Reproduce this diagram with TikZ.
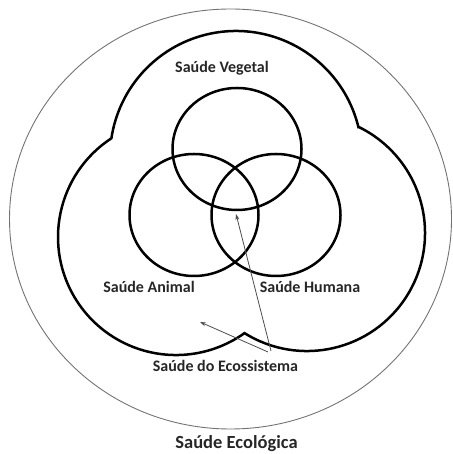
\documentclass[tikz,border=0pt]{standalone}
\usepackage{fontspec}
\setmainfont{Carlito}
\usetikzlibrary{arrows.meta,calc}
\begin{document}
\begin{tikzpicture}[x=1pt,y=1pt,
  lbl/.style={font=\bfseries\fontsize{16}{19}\selectfont, text=black!85, anchor=base, inner sep=0pt},
  bigl/.style={font=\bfseries\fontsize{18.5}{22}\selectfont, text=black!85, anchor=base, inner sep=0pt},
  thick line/.style={line width=2.5pt, black},
  pointer/.style={line width=0.8pt, black!70, -{Stealth[length=6pt,width=4pt]}}]
\useasboundingbox (0,0) rectangle (452,454);
% outer ellipse
\draw[black!55, line width=0.9pt] (230.5,235) ellipse [x radius=221, y radius=210];
% cloud (union of three lobes)
\coordinate (cT) at (236,297);
\coordinate (cL) at (176,217);
\coordinate (cR) at (307,221);
\draw[thick line, line join=miter]
  ($(cT)+(13.87:126)$) arc[start angle=13.87, end angle=171.47, radius=126]
  arc[start angle=123.20, end angle=305.49, radius=118]
  arc[start angle=238.01, end angle=424.22, radius=118] -- cycle;
% three circles
\draw[thick line] (237,305) ellipse [x radius=64.5, y radius=61];
\draw[thick line] (194,239) ellipse [x radius=64.5, y radius=61];
\draw[thick line] (276,239) ellipse [x radius=64.5, y radius=61];
% labels
\node[lbl] (veg) at (222,381) {Saúde Vegetal};
\node[lbl] (ani) at (149,161) {Saúde Animal};
\node[lbl] (hum) at (310,161) {Saúde Humana};
\node[lbl] (eco) at (225.5,82) {Saúde do Ecossistema};
\node[bigl] (ecol) at (236.5,5.5) {Saúde Ecológica};
% arrows
\coordinate (s1) at (271,103);
\coordinate (t1) at (236,240);
\coordinate (s2) at (268,102);
\coordinate (t2) at (200,132);
\draw[pointer] (s1) -- (t1);
\draw[pointer] (s2) -- (t2);
\end{tikzpicture}
\end{document}
